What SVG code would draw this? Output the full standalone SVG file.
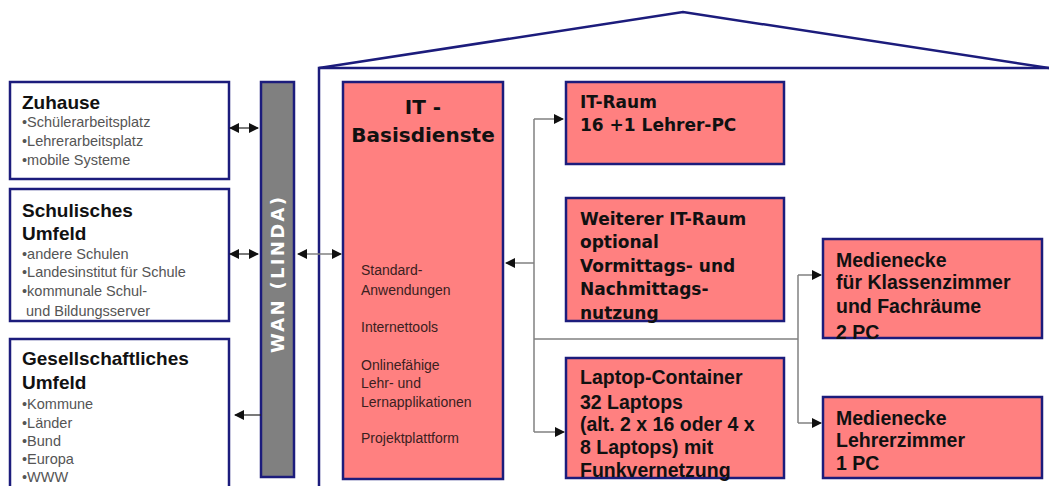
<svg xmlns="http://www.w3.org/2000/svg" width="1049" height="486" viewBox="0 0 1049 486">
<style>
.box{fill:#fff;stroke:#1c1c7c;stroke-width:2.5}
.pink{fill:#ff8080;stroke:#1c1c7c;stroke-width:2.5}
.wall{fill:none;stroke:#1c1c7c;stroke-width:2.5}
.h{font-family:"Liberation Sans",Arial,sans-serif;font-weight:bold;font-size:19px;fill:#111}
.b{font-family:"Liberation Sans",Arial,sans-serif;font-size:14.5px;fill:#555}
.s{font-family:"Liberation Sans",Arial,sans-serif;font-size:14px;fill:#3a2020}
.v{font-family:"DejaVu Sans",Verdana,sans-serif;font-weight:bold;font-size:17px;fill:#111}
.a{font-family:"Liberation Sans",Arial,sans-serif;font-weight:bold;font-size:19.5px;fill:#111}
.t{font-family:"DejaVu Sans",Verdana,sans-serif;font-weight:bold;font-size:20px;fill:#111}
.ln{fill:none;stroke:#808080;stroke-width:1.5}
.ln2{fill:none;stroke:#222;stroke-width:1.2}
</style>
<defs>
<marker id="ah" viewBox="0 0 10 10" refX="9" refY="5" markerWidth="10" markerHeight="10" markerUnits="userSpaceOnUse" orient="auto-start-reverse">
<path d="M0,0 L10,5 L0,10 z" fill="#111"/>
</marker>
</defs>
<rect width="1049" height="486" fill="#fff"/>
<g id="house">
<polyline class="wall" points="319,486 319,68 1049,68"/>
<polyline class="wall" points="319,68 683,12 1049,68"/>
</g>
<g id="zuhause">
<rect class="box" x="10" y="82" width="219" height="97"/>
<text class="h" x="22" y="109">Zuhause</text>
<text class="b" x="22" y="127">•Schülerarbeitsplatz</text>
<text class="b" x="22" y="146">•Lehrerarbeitsplatz</text>
<text class="b" x="22" y="165">•mobile Systeme</text>
</g>
<g id="schulisches">
<rect class="box" x="10" y="189" width="219" height="132"/>
<text class="h" x="22" y="217">Schulisches</text>
<text class="h" x="22" y="240">Umfeld</text>
<text class="b" x="22" y="259">•andere Schulen</text>
<text class="b" x="22" y="277">•Landesinstitut für Schule</text>
<text class="b" x="22" y="296">•kommunale Schul-</text>
<text class="b" x="26" y="316">und Bildungsserver</text>
</g>
<g id="gesellschaftliches">
<rect class="box" x="10" y="339" width="219" height="160"/>
<text class="h" x="22" y="365">Gesellschaftliches</text>
<text class="h" x="22" y="389">Umfeld</text>
<text class="b" x="22" y="409">•Kommune</text>
<text class="b" x="22" y="428">•Länder</text>
<text class="b" x="22" y="446">•Bund</text>
<text class="b" x="22" y="464">•Europa</text>
<text class="b" x="22" y="482">•WWW</text>
</g>
<g id="wan">
<rect x="261" y="82" width="33" height="395" fill="#808080" stroke="#1c1c7c" stroke-width="2.5"/>
<text transform="translate(284,275) rotate(-90)" text-anchor="middle" font-family="DejaVu Sans,Verdana,sans-serif" font-weight="bold" font-size="18" fill="#fff" textLength="156" lengthAdjust="spacing">WAN (LINDA)</text>
</g>
<g id="it-basisdienste">
<rect class="pink" x="343" y="82" width="160" height="397"/>
<text class="t" x="423" y="114" text-anchor="middle">IT -</text>
<text class="t" x="423" y="142" text-anchor="middle">Basisdienste</text>
<text class="s" x="361" y="275">Standard-</text>
<text class="s" x="361" y="295">Anwendungen</text>
<text class="s" x="361" y="332">Internettools</text>
<text class="s" x="361" y="370">Onlinefähige</text>
<text class="s" x="361" y="388">Lehr- und</text>
<text class="s" x="361" y="407">Lernapplikationen</text>
<text class="s" x="361" y="443">Projektplattform</text>
</g>
<g id="it-raum">
<rect class="pink" x="566" y="82" width="218" height="82"/>
<text class="v" x="580" y="108">IT-Raum</text>
<text class="v" x="580" y="131">16 +1 Lehrer-PC</text>
</g>
<g id="weiterer-it-raum">
<rect class="pink" x="566" y="198" width="218" height="123"/>
<text class="v" x="580" y="225">Weiterer IT-Raum</text>
<text class="v" x="580" y="248">optional</text>
<text class="v" x="580" y="272">Vormittags- und</text>
<text class="v" x="580" y="295">Nachmittags-</text>
<text class="v" x="580" y="319">nutzung</text>
</g>
<g id="laptop-container">
<rect class="pink" x="566" y="358" width="218" height="120"/>
<text class="a" x="580" y="384">Laptop-Container</text>
<text class="a" x="580" y="409">32 Laptops</text>
<text class="a" x="580" y="431">(alt. 2 x 16 oder 4 x</text>
<text class="a" x="580" y="454">8 Laptops) mit</text>
<text class="a" x="580" y="477">Funkvernetzung</text>
</g>
<g id="medienecke-klassenzimmer">
<rect class="pink" x="823" y="239" width="219" height="99"/>
<text class="a" x="836" y="267">Medienecke</text>
<text class="a" x="836" y="289">für Klassenzimmer</text>
<text class="a" x="836" y="313">und Fachräume</text>
<text class="a" x="836" y="339">2 PC</text>
</g>
<g id="medienecke-lehrerzimmer">
<rect class="pink" x="823" y="397" width="219" height="81"/>
<text class="a" x="836" y="425">Medienecke</text>
<text class="a" x="836" y="447">Lehrerzimmer</text>
<text class="a" x="836" y="470">1 PC</text>
</g>
<g id="connectors">
<path class="ln2" d="M230,128 H258" marker-start="url(#ah)" marker-end="url(#ah)"/>
<path class="ln2" d="M230,254 H258" marker-start="url(#ah)" marker-end="url(#ah)"/>
<path class="ln2" d="M261,415 H235" marker-end="url(#ah)"/>
<path class="ln" d="M298,254 H341" marker-start="url(#ah)" marker-end="url(#ah)"/>
<path class="ln" d="M534,119 V432"/>
<path class="ln" d="M534,119 H563" marker-end="url(#ah)"/>
<path class="ln" d="M534,432 H564" marker-end="url(#ah)"/>
<path class="ln" d="M534,263 H506" marker-end="url(#ah)"/>
<path class="ln" d="M534,339 H798"/>
<path class="ln" d="M798,275 V423"/>
<path class="ln" d="M798,275 H821" marker-end="url(#ah)"/>
<path class="ln" d="M798,423 H821" marker-end="url(#ah)"/>
</g>
</svg>
